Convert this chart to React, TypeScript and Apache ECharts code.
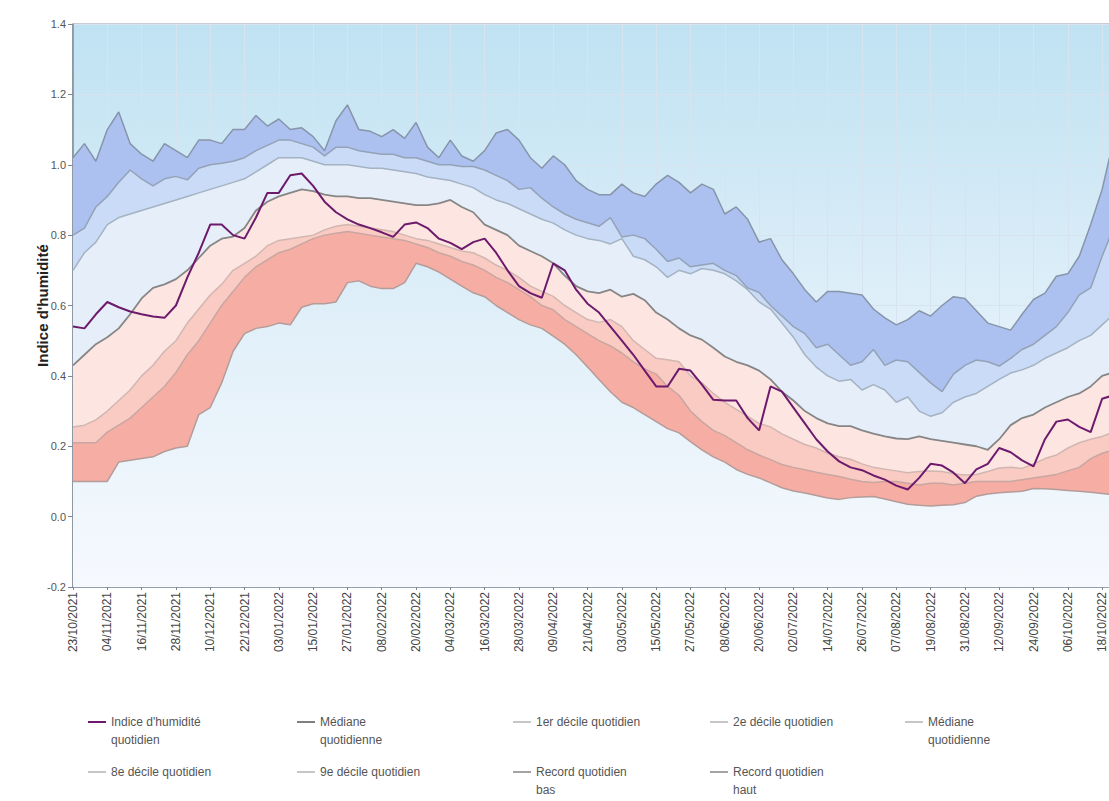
import React, { useEffect, useRef } from "react";
import * as echarts from "echarts";

// ---- x domain: one sample every 4 days from 23/10/2021 ----
const START_UTC = Date.UTC(2021, 9, 23);
const STEP_DAYS = 4;
const X_MAX_DAYS = 368;
const LABEL_EVERY_DAYS = 12;

const Y_MIN = -0.2;
const Y_MAX = 1.4;
const Y_STEP = 0.2;

// ---- series values (one value per 4-day sample) ----
const recordHaut = [
  1.02, 1.06, 1.01, 1.10, 1.15, 1.06, 1.03, 1.01, 1.06, 1.04,
  1.02, 1.07, 1.07, 1.06, 1.10, 1.10, 1.14, 1.11, 1.13, 1.10,
  1.105, 1.08, 1.04, 1.125, 1.17, 1.10, 1.095, 1.08, 1.10, 1.075,
  1.12, 1.05, 1.02, 1.07, 1.025, 1.01, 1.04, 1.09, 1.10, 1.07,
  1.02, 0.99, 1.025, 1.0, 0.955, 0.93, 0.915, 0.915, 0.945, 0.92,
  0.91, 0.945, 0.97, 0.95, 0.92, 0.945, 0.93, 0.86, 0.88, 0.845,
  0.78, 0.79, 0.73, 0.69, 0.645, 0.61, 0.64, 0.64, 0.635, 0.63,
  0.59, 0.565, 0.545, 0.56, 0.585, 0.57, 0.60, 0.625, 0.62, 0.585,
  0.55, 0.54, 0.53, 0.575, 0.617, 0.635, 0.683, 0.69, 0.74, 0.83,
  0.93, 1.07,
];

const decile9 = [
  0.80, 0.82, 0.88, 0.91, 0.95, 0.985, 0.96, 0.94, 0.96, 0.967,
  0.957, 0.99, 1.0, 1.004, 1.01, 1.02, 1.04, 1.055, 1.07, 1.07,
  1.06, 1.05, 1.025, 1.05, 1.05, 1.04, 1.035, 1.03, 1.03, 1.02,
  1.02, 1.01, 1.0, 1.0, 0.995, 0.995, 0.985, 0.97, 0.955, 0.93,
  0.935, 0.905, 0.88, 0.86, 0.845, 0.835, 0.825, 0.85, 0.795, 0.80,
  0.79, 0.76, 0.725, 0.735, 0.71, 0.715, 0.72, 0.70, 0.685, 0.65,
  0.637, 0.60, 0.57, 0.54, 0.52, 0.48, 0.49, 0.46, 0.43, 0.44,
  0.475, 0.43, 0.445, 0.44, 0.41, 0.38, 0.355, 0.405, 0.43, 0.445,
  0.44, 0.428, 0.45, 0.475, 0.49, 0.515, 0.54, 0.58, 0.63, 0.65,
  0.74, 0.82,
];

const decile8 = [
  0.70, 0.75, 0.78, 0.83, 0.85, 0.86, 0.87, 0.88, 0.89, 0.90,
  0.91, 0.92, 0.93, 0.94, 0.95, 0.96, 0.98, 1.0, 1.02, 1.02,
  1.02, 1.01, 1.0, 1.0, 1.0, 0.995, 0.99, 0.99, 0.985, 0.98,
  0.975, 0.965, 0.96, 0.955, 0.945, 0.935, 0.915, 0.90, 0.89, 0.875,
  0.86, 0.845, 0.834, 0.815, 0.80, 0.79, 0.785, 0.775, 0.79, 0.74,
  0.73, 0.71, 0.68, 0.70, 0.69, 0.705, 0.70, 0.69, 0.67, 0.645,
  0.61, 0.59, 0.55, 0.51, 0.46, 0.425, 0.40, 0.385, 0.39, 0.36,
  0.375, 0.36, 0.325, 0.34, 0.30, 0.285, 0.295, 0.325, 0.34, 0.35,
  0.37, 0.39, 0.408, 0.417, 0.43, 0.45, 0.465, 0.48, 0.50, 0.515,
  0.545, 0.575,
];

const mediane = [
  0.43, 0.46, 0.49, 0.51, 0.535, 0.575, 0.62, 0.65, 0.66, 0.675,
  0.70, 0.735, 0.77, 0.79, 0.796, 0.82, 0.87, 0.895, 0.91, 0.92,
  0.93, 0.925, 0.915, 0.91, 0.91, 0.905, 0.905, 0.90, 0.895, 0.89,
  0.885, 0.885, 0.89, 0.90, 0.88, 0.865, 0.83, 0.815, 0.80, 0.77,
  0.755, 0.74, 0.72, 0.685, 0.655, 0.64, 0.635, 0.645, 0.625, 0.633,
  0.615, 0.58, 0.56, 0.535, 0.515, 0.503, 0.48, 0.455, 0.44, 0.43,
  0.415, 0.39, 0.355, 0.33, 0.30, 0.28, 0.265, 0.257, 0.257, 0.245,
  0.236, 0.228, 0.222, 0.22, 0.228, 0.22, 0.215, 0.21, 0.205, 0.20,
  0.19, 0.22, 0.26, 0.28, 0.29, 0.31, 0.325, 0.34, 0.35, 0.37,
  0.40, 0.41,
];

const decile2 = [
  0.255, 0.26, 0.275, 0.30, 0.33, 0.36, 0.40, 0.43, 0.47, 0.50,
  0.55, 0.59, 0.63, 0.66, 0.70, 0.72, 0.74, 0.77, 0.785, 0.79,
  0.795, 0.80, 0.815, 0.825, 0.83, 0.825, 0.82, 0.815, 0.81, 0.80,
  0.79, 0.785, 0.775, 0.765, 0.755, 0.75, 0.735, 0.715, 0.70, 0.68,
  0.655, 0.64, 0.626, 0.60, 0.58, 0.56, 0.552, 0.56, 0.54, 0.50,
  0.475, 0.45, 0.446, 0.44, 0.40, 0.38, 0.35, 0.325, 0.305, 0.285,
  0.265, 0.255, 0.235, 0.22, 0.205, 0.195, 0.18, 0.17, 0.163, 0.15,
  0.14, 0.135, 0.13, 0.125, 0.128, 0.13, 0.128, 0.122, 0.118, 0.12,
  0.128, 0.138, 0.14, 0.137, 0.15, 0.165, 0.175, 0.195, 0.21, 0.22,
  0.228, 0.24,
];

const decile1 = [
  0.21, 0.21, 0.21, 0.24, 0.26, 0.28, 0.31, 0.34, 0.37, 0.41,
  0.46, 0.50, 0.55, 0.60, 0.64, 0.68, 0.71, 0.73, 0.75, 0.76,
  0.775, 0.79, 0.80, 0.805, 0.81, 0.805, 0.80, 0.795, 0.79, 0.785,
  0.775, 0.765, 0.75, 0.74, 0.725, 0.715, 0.70, 0.68, 0.665, 0.645,
  0.625, 0.60, 0.588, 0.56, 0.54, 0.52, 0.50, 0.485, 0.465, 0.44,
  0.42, 0.405, 0.37, 0.345, 0.30, 0.27, 0.245, 0.23, 0.21, 0.19,
  0.175, 0.162, 0.148, 0.14, 0.133, 0.126, 0.12, 0.114, 0.106, 0.10,
  0.097, 0.10, 0.10, 0.095, 0.09, 0.095, 0.095, 0.09, 0.095, 0.10,
  0.10, 0.10, 0.10, 0.105, 0.11, 0.115, 0.12, 0.13, 0.14, 0.165,
  0.18, 0.19,
];

const recordBas = [
  0.10, 0.10, 0.10, 0.10, 0.155, 0.16, 0.165, 0.17, 0.185, 0.195,
  0.20, 0.29, 0.31, 0.38, 0.47, 0.52, 0.535, 0.54, 0.55, 0.545,
  0.595, 0.605, 0.605, 0.61, 0.665, 0.67, 0.655, 0.648, 0.648, 0.665,
  0.72, 0.71, 0.695, 0.675, 0.655, 0.636, 0.625, 0.60, 0.58, 0.56,
  0.545, 0.535, 0.513, 0.49, 0.46, 0.425, 0.39, 0.355, 0.325, 0.31,
  0.29, 0.27, 0.25, 0.238, 0.213, 0.19, 0.17, 0.155, 0.134, 0.12,
  0.11, 0.096, 0.082, 0.073, 0.067, 0.06, 0.053, 0.049, 0.054, 0.056,
  0.057, 0.05, 0.042, 0.035, 0.032, 0.03, 0.032, 0.034, 0.04, 0.058,
  0.064, 0.068, 0.07, 0.072, 0.08, 0.079, 0.077, 0.074, 0.072, 0.069,
  0.066, 0.062,
];

const indice = [
  0.54, 0.535, 0.575, 0.61, 0.595, 0.583, 0.575, 0.569, 0.565, 0.60,
  0.68, 0.75, 0.83, 0.83, 0.80, 0.79, 0.85, 0.92, 0.92, 0.97,
  0.975, 0.94, 0.895, 0.865, 0.845, 0.83, 0.82, 0.808, 0.795, 0.83,
  0.836, 0.82, 0.79, 0.778, 0.76, 0.78, 0.79, 0.75, 0.70, 0.655,
  0.635, 0.622, 0.72, 0.70, 0.645, 0.605, 0.58, 0.54, 0.50, 0.46,
  0.415, 0.37, 0.37, 0.42, 0.415, 0.375, 0.332, 0.33, 0.33, 0.28,
  0.245, 0.37, 0.355, 0.31, 0.265, 0.22, 0.185, 0.157, 0.14, 0.132,
  0.117, 0.105, 0.088, 0.077, 0.11, 0.15, 0.145, 0.125, 0.095, 0.134,
  0.15, 0.195, 0.183, 0.16, 0.143, 0.22, 0.27, 0.276, 0.255, 0.24,
  0.335, 0.345,
];

const NAMES = {
  indice: "Indice d'humidité quotidien",
  mediane: "Médiane quotidienne",
  d1: "1er décile quotidien",
  d2: "2e décile quotidien",
  medZone: "Médiane quotidienne (zone)",
  d8: "8e décile quotidien",
  d9: "9e décile quotidien",
  bas: "Record quotidien bas",
  haut: "Record quotidien haut",
};

const LEGEND_LABELS: Record<string, string[]> = {
  [NAMES.indice]: ["Indice d'humidité", "quotidien"],
  [NAMES.mediane]: ["Médiane", "quotidienne"],
  [NAMES.d1]: ["1er décile quotidien"],
  [NAMES.d2]: ["2e décile quotidien"],
  [NAMES.medZone]: ["Médiane", "quotidienne"],
  [NAMES.d8]: ["8e décile quotidien"],
  [NAMES.d9]: ["9e décile quotidien"],
  [NAMES.bas]: ["Record quotidien", "bas"],
  [NAMES.haut]: ["Record quotidien", "haut"],
};

const FONT = "'Liberation Sans', Arial, sans-serif";

function dayLabel(day: number): string {
  const d = new Date(START_UTC + Math.round(day) * 86400000);
  const dd = String(d.getUTCDate()).padStart(2, "0");
  const mm = String(d.getUTCMonth() + 1).padStart(2, "0");
  return `${dd}/${mm}/${d.getUTCFullYear()}`;
}

// grid geometry (pixels)
const GRID_LEFT = 73;
const GRID_TOP = 24;
const GRID_W = 1052;
const GRID_H = 563;

export default function App() {
  const ref = useRef<HTMLDivElement>(null);

  useEffect(() => {
    if (!ref.current) return;
    const chart = echarts.init(ref.current, null, { renderer: "svg" });

    const days = indice.map((_, i) => i * STEP_DAYS);
    const pts = (arr: number[]) => arr.map((v, i) => [days[i], v]);

    const bgStops = [
      { offset: 0, color: "#bfe2f2" },
      { offset: 0.55, color: "#e2f0f9" },
      { offset: 1, color: "#f6f9fe" },
    ];
    const bgGradient = () =>
      new echarts.graphic.LinearGradient(
        0,
        GRID_TOP,
        0,
        GRID_TOP + GRID_H,
        bgStops,
        true
      );

    // filled area from the line down to the axis start; drawn top band first
    const band = (name: string, arr: number[], fill: any) => ({
      type: "line",
      name,
      data: pts(arr),
      symbol: "none",
      showSymbol: false,
      silent: true,
      lineStyle: { width: 0, opacity: 0 },
      itemStyle: { color: typeof fill === "string" ? fill : "#f0f5fc" },
      areaStyle: { color: fill, opacity: 1, origin: "start" },
      emphasis: { disabled: true },
      z: 2,
    });

    const line = (name: string, arr: number[], color: string, width: number, z: number) => ({
      type: "line",
      name,
      data: pts(arr),
      symbol: "none",
      showSymbol: false,
      silent: true,
      lineStyle: { color, width },
      itemStyle: { color },
      emphasis: { disabled: true },
      z,
    });

    const legendItem = (
      name: string,
      color: string,
      left: number,
      firstLineCenter: number
    ) => {
      const lines = LEGEND_LABELS[name];
      const lh = 18;
      const twoLines = lines.length > 1;
      // a blank leading line keeps the first text line centred on the icon
      const text = twoLines ? [" ", ...lines].join("\n") : lines[0];
      return {
        show: true,
        selectedMode: false,
        padding: 0,
        left,
        top: twoLines ? firstLineCenter - lh * 1.5 : firstLineCenter - lh / 2,
        icon: "rect",
        itemWidth: 18,
        itemHeight: 2,
        data: [
          {
            name,
            itemStyle: { color, borderWidth: 0 },
            lineStyle: { color, width: 2 },
          },
        ],
        formatter: () => text,
        textStyle: {
          color: "#555555",
          fontSize: 12,
          fontFamily: FONT,
          lineHeight: lh,
        },
      };
    };

    const option: any = {
      animation: false,
      backgroundColor: "#ffffff",
      grid: {
        left: GRID_LEFT,
        top: GRID_TOP,
        width: GRID_W,
        height: GRID_H,
        show: true,
        borderColor: "#8d98a3",
        borderWidth: 1,
        backgroundColor: bgGradient(),
      },
      xAxis: {
        type: "value",
        min: 0,
        max: X_MAX_DAYS,
        interval: LABEL_EVERY_DAYS,
        axisLine: { show: true, onZero: false, lineStyle: { color: "#7c8893", width: 1.5 } },
        axisTick: { show: true, length: 3, lineStyle: { color: "#7c8893" } },
        axisLabel: {
          rotate: 90,
          margin: 5,
          fontSize: 12,
          fontFamily: FONT,
          color: "#444444",
          showMaxLabel: false,
          formatter: (v: number) => dayLabel(v),
        },
        splitLine: { show: true, lineStyle: { color: "#d8e3f0", width: 1 } },
      },
      yAxis: {
        type: "value",
        min: Y_MIN,
        max: Y_MAX,
        interval: Y_STEP,
        name: "Indice d'humidité",
        nameLocation: "middle",
        nameGap: 23,
        nameMoveOverlap: false,
        nameTextStyle: { fontSize: 15, fontWeight: "bold", color: "#222222", fontFamily: FONT },
        axisLine: { show: true, onZero: false, lineStyle: { color: "#7c8893", width: 1.5 } },
        axisTick: { show: true, length: 5, lineStyle: { color: "#7c8893" } },
        axisLabel: {
          margin: 7,
          fontSize: 11,
          fontFamily: FONT,
          color: "#555555",
          formatter: (v: number) => v.toFixed(1),
        },
        splitLine: { show: true, lineStyle: { color: "#d8e3f0", width: 1 } },
      },
      legend: [
        legendItem(NAMES.indice, "#6d1a6d", 88, 722),
        legendItem(NAMES.mediane, "#7f7f7f", 297, 722),
        legendItem(NAMES.d1, "#c6c6c6", 513, 722),
        legendItem(NAMES.d2, "#c6c6c6", 710, 722),
        legendItem(NAMES.medZone, "#c6c6c6", 905, 722),
        legendItem(NAMES.d8, "#c6c6c6", 88, 772),
        legendItem(NAMES.d9, "#c6c6c6", 297, 772),
        legendItem(NAMES.bas, "#a3a3a3", 513, 772),
        legendItem(NAMES.haut, "#a3a3a3", 710, 772),
      ],
      series: [
        band("_bande_haut", recordHaut, "#adc1f1"),
        band("_bande_d9", decile9, "#c9dbf6"),
        band("_bande_d8", decile8, "#e6eff9"),
        band(NAMES.medZone, mediane, "#fde6e2"),
        band("_bande_d2", decile2, "#f9cbc3"),
        band("_bande_d1", decile1, "#f6ada4"),
        band("_bande_bas", recordBas, bgGradient()),
        line(NAMES.bas, recordBas, "#b39c99", 1.5, 5),
        line(NAMES.d1, decile1, "#c8a7a2", 1.5, 5),
        line(NAMES.d2, decile2, "#d1b6b1", 1.5, 5),
        line(NAMES.d8, decile8, "#a4b2c2", 1.5, 5),
        line(NAMES.d9, decile9, "#93a2b6", 1.5, 5),
        line(NAMES.haut, recordHaut, "#8695a9", 1.5, 5),
        line(NAMES.mediane, mediane, "#868686", 1.8, 6),
        line(NAMES.indice, indice, "#6d1a6d", 2, 8),
      ],
    };

    chart.setOption(option);
    return () => chart.dispose();
  }, []);

  return (
    <div
      style={{
        position: "fixed",
        left: 0,
        top: 0,
        width: 1109,
        height: 801,
        overflow: "hidden",
        background: "#ffffff",
      }}
    >
      <div ref={ref} style={{ width: 1125, height: 801 }} />
    </div>
  );
}
